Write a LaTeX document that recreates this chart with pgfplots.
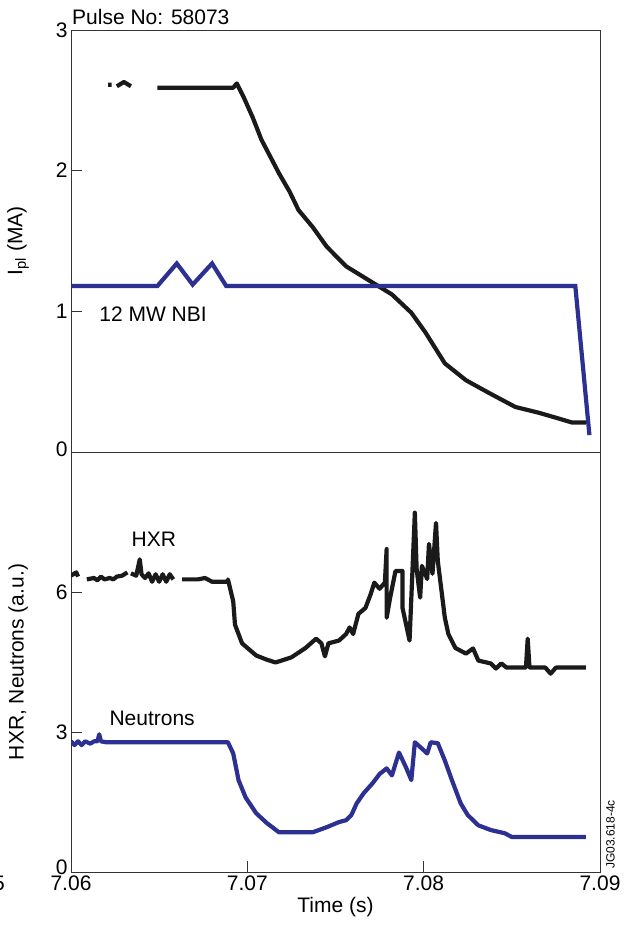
\documentclass[border=0pt]{standalone}
\usepackage{pgfplots}
\pgfplotsset{compat=1.18}
\usepackage{fontspec}
\setmainfont{Liberation Sans}
\definecolor{nbiblue}{RGB}{44,48,145}
\definecolor{trace}{RGB}{26,26,26}
\begin{document}
\begin{tikzpicture}[x=1bp,y=1bp]
\pgfplotsset{
  every axis/.append style={
    scale only axis, width=529bp,
    xmin=7.06, xmax=7.09,
    font=\fontsize{21bp}{24bp}\selectfont,
    /pgf/number format/assume math mode=true,
    tick align=inside,
    major tick length=11bp,
    axis line style={line width=0.8bp, black!80},
    tick style={line width=0.6bp, black!80},
    scaled x ticks=false,
    x tick label style={/pgf/number format/fixed, /pgf/number format/precision=2, /pgf/number format/fixed zerofill},
    ytick pos=left,
    unbounded coords=jump,
  }
}
% ---------- top panel ----------
\begin{axis}[
  at={(71bp,477bp)}, anchor=south west,
  height=422bp,
  ymin=0, ymax=3, ytick={0,1,2,3},
  yticklabels={\raisebox{6bp}{0},1,2,3},
  xtick=\empty,
  ylabel={I\textsubscript{pl} (MA)},
  ylabel style={at={(axis description cs:-0.1,0.5)}, anchor=center},
]
\addplot[trace, line width=4.2bp, line join=round] coordinates {
(7.0621,2.61)(7.0623,2.61)(7.0624,nan)
(7.0626,2.60)(7.0630,2.63)(7.0634,2.60)(7.0637,nan)
(7.0649,2.59)(7.0692,2.59)(7.0694,2.62)(7.0698,2.52)(7.0703,2.38)(7.0708,2.22)
(7.0713,2.10)(7.0718,1.98)(7.0724,1.85)(7.0729,1.72)(7.0737,1.60)(7.0745,1.46)
(7.0756,1.32)(7.0769,1.22)(7.0782,1.12)(7.0793,0.99)(7.0801,0.85)(7.0812,0.63)
(7.0824,0.51)(7.0837,0.42)(7.0852,0.32)(7.0865,0.28)(7.0876,0.24)(7.0884,0.21)(7.0892,0.21)
};
\addplot[nbiblue, line width=4.2bp, line join=miter] coordinates {
(7.0600,1.18)(7.0649,1.18)(7.0660,1.34)(7.0669,1.19)(7.0680,1.34)(7.0688,1.18)
(7.0886,1.18)(7.0894,0.12)
};
\node[anchor=west, inner sep=0] at (axis cs:7.0616,0.98) {12 MW NBI};
\end{axis}
% ---------- bottom panel ----------
\begin{axis}[
  at={(71bp,57bp)}, anchor=south west,
  height=420bp,
  ymin=0, ymax=9, ytick={0,3,6},
  yticklabels={\raisebox{9bp}{0},3,6},
  xtick={7.06,7.07,7.08,7.09},
  xtick pos=bottom,
  xlabel={Time (s)},
  ylabel={HXR, Neutrons (a.u.)},
  ylabel style={at={(axis description cs:-0.1,0.5)}, anchor=center},
]
\addplot[trace, line width=4.2bp, line join=round] coordinates {
(7.0600,6.35)(7.0603,6.42)(7.0604,6.33)(7.0606,nan)
(7.0609,6.27)(7.0613,6.30)(7.0615,6.25)(7.0617,6.33)(7.0619,6.27)(7.0622,6.30)(7.0624,6.27)(7.0626,6.33)(7.0629,6.35)(7.0632,6.42)(7.0633,nan)
(7.0634,6.40)(7.0637,6.35)(7.0639,6.70)(7.0640,6.38)(7.0642,6.30)(7.0644,6.40)(7.0646,6.22)(7.0648,6.38)(7.0650,6.22)(7.0652,6.38)(7.0654,6.22)(7.0656,6.38)(7.0658,6.27)(7.0661,nan)
(7.0663,6.27)(7.0672,6.27)(7.0676,6.30)(7.0680,6.22)(7.0689,6.22)(7.0689,6.27)(7.0692,5.80)(7.0693,5.30)
(7.0697,4.90)(7.0705,4.64)(7.0711,4.55)(7.0716,4.49)(7.0721,4.55)(7.0725,4.60)(7.0733,4.80)(7.0739,5.00)
(7.0742,4.90)(7.0744,4.62)(7.0746,4.90)(7.0752,4.96)(7.0756,5.10)(7.0758,5.24)(7.0760,5.10)(7.0763,5.53)
(7.0767,5.66)(7.0770,5.96)(7.0772,6.20)(7.0775,6.07)(7.0778,6.20)(7.0779,6.92)(7.0779,5.45)(7.0781,5.88)
(7.0784,6.45)(7.0788,6.45)(7.0788,5.66)(7.0792,4.96)(7.0795,7.70)(7.0796,6.50)(7.0798,5.88)(7.0799,6.56)
(7.0802,6.28)(7.0803,7.03)(7.0805,6.39)(7.0807,7.48)(7.0808,6.67)(7.0812,5.45)(7.0814,5.10)(7.0818,4.80)
(7.0824,4.68)(7.0828,4.79)(7.0831,4.53)(7.0838,4.47)(7.0841,4.36)(7.0844,4.47)(7.0847,4.38)(7.0858,4.38)
(7.0859,5.00)(7.0860,4.38)(7.0869,4.38)(7.0872,4.25)(7.0875,4.38)(7.0892,4.38)
};
\addplot[nbiblue, line width=4.2bp, line join=round] coordinates {
(7.0600,2.80)(7.0602,2.72)(7.0604,2.80)(7.0606,2.72)(7.0608,2.80)(7.0611,2.75)(7.0613,2.80)(7.0615,2.80)
(7.0616,2.95)(7.0617,2.80)(7.0620,2.78)(7.0625,2.78)(7.0689,2.78)(7.0692,2.54)(7.0695,1.97)(7.0699,1.60)
(7.0705,1.26)(7.0711,1.05)(7.0718,0.85)(7.0737,0.85)(7.0745,0.96)(7.0752,1.07)(7.0756,1.11)(7.0759,1.22)
(7.0762,1.47)(7.0766,1.69)(7.0771,1.90)(7.0775,2.10)(7.0779,2.22)(7.0782,2.07)(7.0786,2.56)(7.0790,2.24)
(7.0793,1.97)(7.0795,2.78)(7.0800,2.61)(7.0802,2.54)(7.0804,2.78)(7.0808,2.76)(7.0812,2.39)(7.0816,1.97)
(7.0821,1.47)(7.0825,1.22)(7.0831,1.00)(7.0838,0.90)(7.0846,0.83)(7.0850,0.75)(7.0892,0.75)
};
\node[inner sep=0] at (axis cs:7.0647,7.14) {HXR};
\node[inner sep=0] at (axis cs:7.0646,3.29) {Neutrons};
\end{axis}
\node[anchor=base west, inner sep=0, font=\fontsize{21bp}{24bp}\selectfont] at (72bp,904bp) {Pulse No: 58073};
\node[anchor=south west, rotate=90, inner sep=0, font=\fontsize{12bp}{14bp}\selectfont] at (615bp,60bp) {JG03.618-4c};
\node[anchor=east, inner sep=0, font=\fontsize{21bp}{24bp}\selectfont] at (5bp,46bp) {5};
\pgfresetboundingbox
\useasboundingbox (0,0) rectangle (629bp,929bp);
\end{tikzpicture}
\end{document}
